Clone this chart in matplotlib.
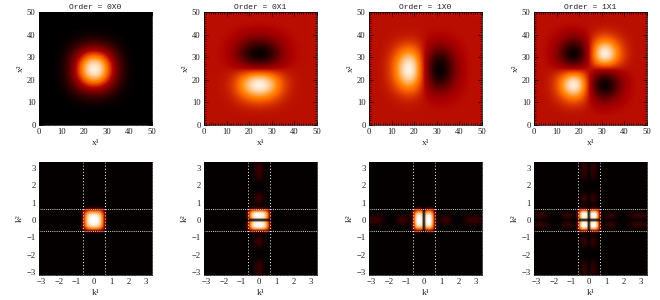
import numpy as np
import matplotlib
matplotlib.use("Agg")
import matplotlib.pyplot as plt
from matplotlib.colors import LinearSegmentedColormap
from matplotlib.ticker import MultipleLocator

titles = ["Order = 0X0", "Order = 0X1", "Order = 1X0", "Order = 1X1"]
x_ticks = [0, 10, 20, 30, 40, 50]
k_ticks = [-3, -2, -1, 0, 1, 2, 3]
k_cut = [-0.63, 0.63]

# Profiles, centre outwards
# real space, one sample per 2.5 units of x
even_x = [1.0, 0.95, 0.78, 0.55, 0.32, 0.14, 0.05, 0.015, 0.0, 0.0, 0.0, 0.0]
odd_x = [0.0, 0.55, 0.92, 1.0, 0.80, 0.48, 0.22, 0.07, 0.01, 0.0, 0.0, 0.0]
# frequency space, one sample per 0.1257 of k
even_k = [1.0, 0.99, 0.96, 0.88, 0.70, 0.32, 0.05, 0.0, 0.0, 0.0, 0.0, 0.0, 0.0, 0.0,
          0.0, 0.0, 0.0, 0.0, 0.0, 0.0, 0.0, 0.0, 0.0, 0.0, 0.0, 0.0, 0.0]
odd_k = [0.0, 0.95, 1.0, 0.98, 0.80, 0.35, 0.05, 0.0, 0.0, 0.0, 0.0, 0.0, 0.0, 0.0,
         0.0, 0.0, 0.0, 0.0, 0.0, 0.0, 0.0, 0.0, 0.0, 0.0, 0.0, 0.0, 0.0]
narrow_even_k = [1.0, 0.85, 0.45, 0.08, 0.0, 0.0, 0.0, 0.0, 0.0, 0.0, 0.0, 0.0, 0.0, 0.0,
                 0.0, 0.0, 0.0, 0.0, 0.0, 0.0, 0.0, 0.0, 0.0, 0.0, 0.0, 0.0, 0.0]
narrow_odd_k = [0.0, 0.75, 1.0, 0.70, 0.20, 0.0, 0.0, 0.0, 0.0, 0.0, 0.0, 0.0, 0.0, 0.0,
                0.0, 0.0, 0.0, 0.0, 0.0, 0.0, 0.0, 0.0, 0.0, 0.0, 0.0, 0.0, 0.0]
side_k = [0.0, 0.0, 0.0, 0.0, 0.0, 0.0, 0.01, 0.05, 0.10, 0.14, 0.15, 0.13, 0.08, 0.03,
          0.0, 0.0, 0.0, 0.01, 0.04, 0.08, 0.11, 0.13, 0.14, 0.14, 0.14, 0.13, 0.12]
k_floor = 0.015


def even(half):
    return np.array(half[:0:-1] + half)


def odd(half):
    return np.array([-v for v in half[:0:-1]] + half)


cmap = LinearSegmentedColormap("idl_red_temp", {
    "red": [(0, 0, 0), (0.69, 1, 1), (1, 1, 1)],
    "green": [(0, 0, 0), (0.47, 0, 0), (1, 1, 1)],
    "blue": [(0, 0, 0), (0.745, 0, 0), (1, 1, 1)],
})

ex, ox = even(even_x), odd(odd_x)
real_imgs = [
    np.outer(ex, ex),
    0.5 - 0.5 * np.outer(ox, ex),
    0.5 - 0.5 * np.outer(ex, ox),
    0.5 + 0.5 * np.outer(ox, ox),
]

ek, ok, nek, nok, sk = (even(even_k), even(odd_k), even(narrow_even_k),
                        even(narrow_odd_k), even(side_k))
freq_imgs = [
    k_floor + np.outer(ek, ek),
    k_floor + np.outer(ok, ek) + np.outer(sk, nek),
    k_floor + np.outer(ek, ok) + np.outer(nek, sk),
    k_floor + np.outer(ok, ok) + 0.9 * np.outer(sk, nok) + 0.9 * np.outer(nok, sk),
]

W, H = 660, 300
lefts = [39, 204, 369, 534]
tops = [12, 162]
side = 113
fam = ["Liberation Mono", "DejaVu Sans Mono"]
sfam = ["Liberation Serif", "DejaVu Serif"]
grey = "#202020"

fig = plt.figure(figsize=(W / 100, H / 100), dpi=100)


def style(ax, xl, yl, minor):
    ax.tick_params(which="major", direction="in", top=True, right=True, length=3,
                   width=0.5, labelsize=6.2, pad=2.5, colors="black", labelcolor=grey)
    ax.tick_params(which="minor", direction="in", top=True, right=True, length=1.3, width=0.4)
    ax.xaxis.set_minor_locator(MultipleLocator(minor))
    ax.yaxis.set_minor_locator(MultipleLocator(minor))
    for lab in ax.get_xticklabels() + ax.get_yticklabels():
        lab.set_family(sfam)
    for s in ax.spines.values():
        s.set_linewidth(0.5)
    ax.set_xlabel(xl, fontsize=6.8, family=sfam, color=grey, labelpad=1.5)
    ax.set_ylabel(yl, fontsize=6.8, family=sfam, color=grey, labelpad=1.5)


for i in range(4):
    ax = fig.add_axes([lefts[i] / W, 1 - (tops[0] + side) / H, side / W, side / H])
    half = (len(ex) / 2) * 2.5
    ax.imshow(real_imgs[i], cmap=cmap, vmin=0, vmax=1, origin="lower", aspect="auto",
              interpolation="bicubic", extent=[24.5 - half, 24.5 + half, 24.5 - half, 24.5 + half])
    ax.set_xlim(0, 50)
    ax.set_ylim(0, 50)
    ax.set_xticks(x_ticks)
    ax.set_yticks(x_ticks)
    style(ax, "x¹", "x²", 1)
    ax.set_title(titles[i], fontsize=5.8, family=fam, color=grey, pad=2.5)

    ax = fig.add_axes([lefts[i] / W, 1 - (tops[1] + side) / H, side / W, side / H])
    half = (len(ek) / 2) * 0.1257
    ax.imshow(freq_imgs[i], cmap=cmap, vmin=0, vmax=1, origin="lower", aspect="auto",
              interpolation="bilinear", extent=[-half, half, -half, half])
    ax.set_xlim(-3.15, 3.35)
    ax.set_ylim(-3.15, 3.32)
    ax.set_xticks(k_ticks)
    ax.set_yticks(k_ticks)
    style(ax, "k¹", "k²", 0.2)
    for c in k_cut:
        ax.axvline(c, color="white", lw=0.7, ls=(0, (1, 2.2)))
        ax.axhline(c, color="#d8d8d8", lw=0.7, ls=(0, (1, 1.2)))

fig.savefig("out.png", dpi=100)
